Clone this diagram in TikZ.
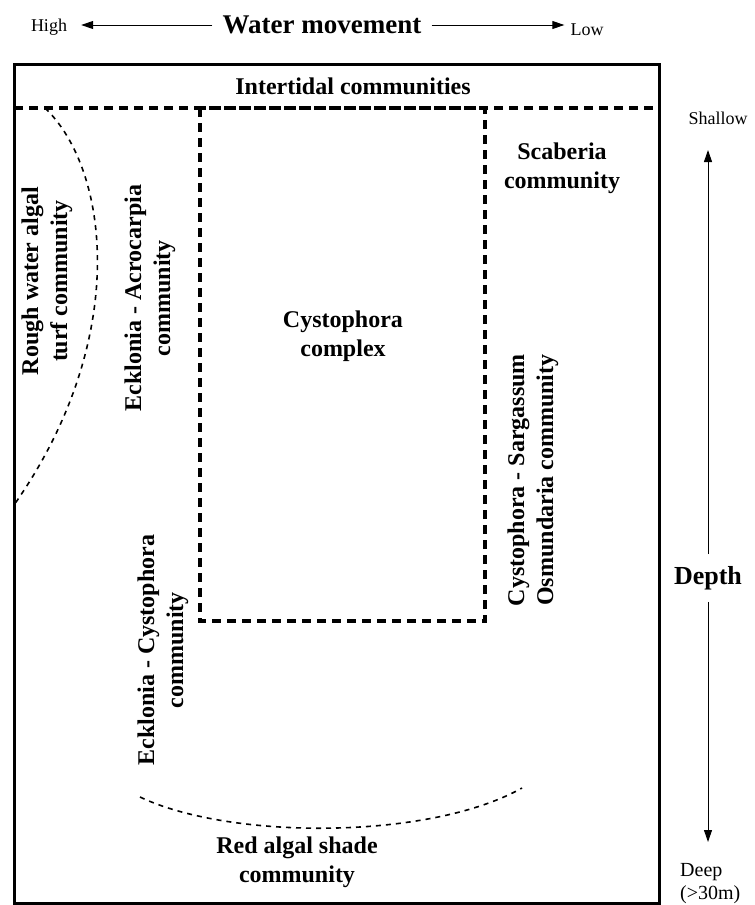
\documentclass[tikz,border=0pt]{standalone}
\usepackage{fontspec}
\setmainfont{Liberation Serif}
\usetikzlibrary{arrows.meta, positioning}

\begin{document}
\begin{tikzpicture}[
        x=1pt, y=-1pt,
        zone/.style={font=\fontsize{24}{29}\selectfont\bfseries, align=center, inner sep=0pt},
        small/.style={font=\fontsize{18}{22}\selectfont, inner sep=0pt, align=left},
        border/.style={line width=3.5pt, dash pattern=on 9pt off 6pt},
        edge/.style={line width=1.6pt, dash pattern=on 5pt off 5pt},
        arrow/.style={-{Triangle[length=12pt, width=8pt]}, line width=1pt}
    ]
        \useasboundingbox (0,0) rectangle (755,905);

        % Water movement scale along the top
        \node[font=\fontsize{27}{31}\selectfont\bfseries, inner sep=0pt] (water) at (322,25) {Water movement};
        \node[small] (high) at (49,27) {High};
        \node[small] (low) at (587,30) {Low};
        \draw[arrow, shorten <=10pt, shorten >=14pt] (water.west) -- (water.west -| high.east);
        \draw[arrow, shorten <=10pt, shorten >=6pt] (water.east) -- (water.east -| low.west);

        % Outer frame and zone boundaries
        \draw[line width=3pt] (14,64) rectangle (659,903);
        \draw[border] (14,108) -- (659,108);
        \draw[border] (200,108) rectangle (485,621);

        % Curved boundaries
        \draw[edge] (45,108) .. controls (110,170) and (130,340) .. (14,505);
        \draw[edge] (140,797) .. controls (230,840) and (430,840) .. (522,788);

        % Community labels
        \node[zone] (intertidal) at (353,86) {Intertidal communities};
        \node[zone] (scaberia) at (562,168) {Scaberia\\community};
        \node[zone] (complex) at (343,336) {Cystophora\\complex};
        \node[zone, rotate=90] (rough) at (47,281) {Rough water algal\\turf community};
        \node[zone, rotate=90] (acrocarpia) at (150,298) {Ecklonia - Acrocarpia\\community};
        \node[zone, rotate=90] (ecklonia) at (163,650) {Ecklonia - Cystophora\\community};
        \node[zone, rotate=90] (sargassum) at (533,480) {Cystophora - Sargassum\\Osmundaria community};
        \node[zone] (red) at (297,862) {Red algal shade\\community};

        % Depth scale on the right
        \node[small] (shallow) at (718,118) {Shallow};
        \node[font=\fontsize{26}{30}\selectfont\bfseries, inner sep=0pt] (depth) at (708,578) {Depth};
        \node[font=\fontsize{20}{23}\selectfont, inner sep=0pt, align=left, anchor=west] (deep) at (680,884) {Deep\\(>30m)};
        \coordinate (uptip) at (708,150);
        \coordinate (downtip) at (708,842);
        \draw[arrow, shorten <=12pt] (depth.north) -- (uptip);
        \draw[arrow, shorten <=12pt] (depth.south) -- (downtip);
    \end{tikzpicture}
\end{document}
